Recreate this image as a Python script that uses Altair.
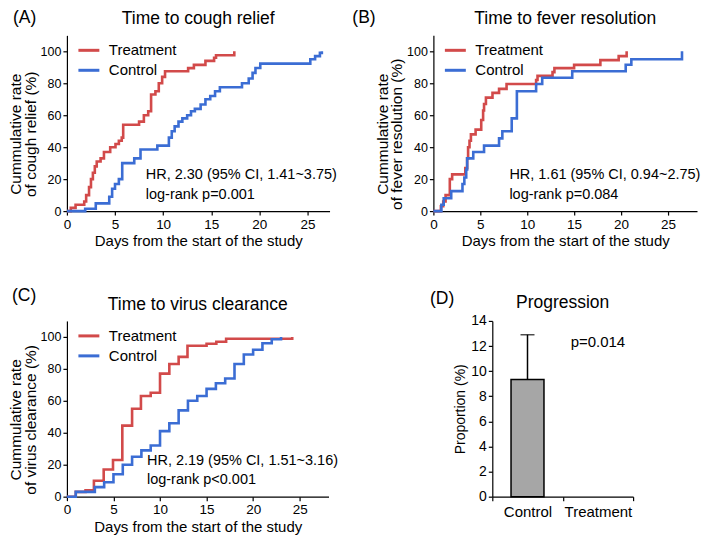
import altair as alt
import pandas as pd

FONT = "Liberation Sans"
RED = "#d24a4a"
BLUE = "#3b6dd4"
GREY = "#a6a6a6"
GROUPS = ["Treatment", "Control"]
X_TICKS = [0, 5, 10, 15, 20, 25]
Y_TICKS = [0, 20, 40, 60, 80, 100]
X_TITLE = "Days from the start of the study"
H = 176

# ---------- Panel A: time to cough relief ----------
A_TRT_DAY = [0, 0.4, 0.9, 1.8, 2.0, 2.3, 2.5, 2.7, 2.9, 3.1, 3.5, 3.85, 4.5, 5.05, 5.4, 5.7,
             5.85, 7.5, 8.0, 8.45, 8.75, 9.2, 9.55, 9.9, 10.2, 12.6, 13.2, 14.4, 15.3, 15.5, 17.4]
A_TRT_PCT = [0, 2, 4, 6, 10, 15, 20, 24, 28, 31, 33, 37, 40, 42, 44, 46,
             54, 56, 60, 62.5, 73, 75, 80, 84, 87.5, 89.5, 91.5, 94, 96, 97.5, 100]
A_CTL_DAY = [0, 1.9, 3.0, 4.4, 4.7, 5.0, 5.4, 5.75, 7.0, 7.65, 9.4, 10.6, 10.9, 11.2, 11.6, 12.0,
             12.5, 12.9, 13.3, 13.9, 14.4, 14.9, 15.4, 15.9, 18.2, 18.9, 19.3, 19.6, 20.1, 25.3,
             25.8, 26.3, 26.5]
A_CTL_PCT = [0, 1.5, 4.8, 9, 14, 17, 20, 30, 33, 38.5, 41, 46, 50, 53, 56, 58,
             60, 62.5, 64, 66.7, 70, 72, 75, 77.5, 80, 83, 86.5, 89.6, 92.3, 95,
             97, 99, 100]

# ---------- Panel B: time to fever resolution ----------
B_TRT_DAY = [0, 0.8, 1.05, 1.3, 1.75, 2.0, 3.4, 3.6, 3.7, 3.85, 4.0, 4.5, 5.1, 5.3, 5.4, 5.6,
             6.3, 7.0, 7.8, 10.95, 11.1, 12.7, 12.9, 15.0, 17.8, 19.75, 20.6]
B_TRT_PCT = [0, 3, 6, 10, 20, 23, 27, 33, 40, 44, 48, 51, 57, 63, 67, 71,
             74, 76.5, 79.5, 82, 84.6, 87, 89.5, 91.5, 94.5, 97, 100]
B_CTL_DAY = [0, 0.85, 1.1, 1.9, 3.1, 3.3, 3.5, 3.6, 4.25, 5.4, 7.0, 7.35, 8.35, 8.9, 10.95,
             11.6, 14.8, 20.5, 21.1, 26.5]
B_CTL_PCT = [0, 4, 8, 12.5, 17, 21, 26, 33, 37, 41, 45.5, 50, 58, 75, 79.5,
             83.5, 87.5, 91.6, 95, 100]

# ---------- Panel C: time to virus clearance ----------
C_TRT_DAY = [0, 0.95, 2.0, 2.9, 3.95, 4.95, 5.95, 7.0, 7.95, 9.0, 10.0, 11.0, 12.0, 12.95,
             15.0, 16.05, 17.1, 24.2]
C_TRT_PCT = [0, 3, 4, 10, 17, 23, 44.5, 55, 63, 65, 77, 83, 87.5, 94.5,
             95.7, 97, 98.8, 100]
C_CTL_DAY = [0, 0.95, 3.0, 4.0, 5.0, 6.0, 7.0, 8.0, 9.0, 10.0, 11.0, 12.0, 13.0, 14.0, 15.0,
             16.0, 17.0, 18.0, 19.0, 20.0, 21.0, 22.0, 23.0]
C_CTL_PCT = [0, 3, 6, 9, 14, 20, 25, 29, 32, 41, 46, 54, 60, 63, 67.5,
             71, 74, 83, 89, 92, 96, 98.5, 100]

# ---------- Panel D: progression ----------
D_CATS = ["Control", "Treatment"]
D_PROP = [9.33, 0.0]
D_UPPER = [12.9, 0.0]
D_TICKS = [0, 2, 4, 6, 8, 10, 12, 14]


def km_frame(td, tp, cd, cp):
    rows = [{"day": d, "pct": p, "group": "Treatment"} for d, p in zip(td, tp)]
    rows += [{"day": d, "pct": p, "group": "Control"} for d, p in zip(cd, cp)]
    return pd.DataFrame(rows)


def km_panel(df, xmax, width, ytitle, heads, notes):
    xsc = alt.Scale(domain=[0, xmax], nice=False, zero=False)
    ysc = alt.Scale(domain=[0, 110], nice=False)
    lines = alt.Chart(df).mark_line(interpolate="step-after", strokeWidth=2.6).encode(
        x=alt.X("day:Q", scale=xsc,
                axis=alt.Axis(values=X_TICKS, tickCount=12, title=X_TITLE, labelFlush=False,
                              labelOverlap=False, labelFontSize=13.5)),
        y=alt.Y("pct:Q", scale=ysc,
                axis=alt.Axis(values=Y_TICKS, tickCount=12, title=ytitle, titleY=H * 0.56,
                              titleFontSize=15.5, titleLineHeight=14.5, titlePadding=2,
                              labelFontSize=12.5, labelOverlap=False)),
        color=alt.Color("group:N", sort=GROUPS,
                        scale=alt.Scale(domain=GROUPS, range=[RED, BLUE]),
                        legend=alt.Legend(title=None, orient="none", legendX=10, legendY=3,
                                          symbolType="stroke", symbolSize=440,
                                          symbolStrokeWidth=3, labelFontSize=15,
                                          labelFont=FONT, labelOffset=8, rowPadding=-3,
                                          padding=0)),
    )
    hd = pd.DataFrame(heads, columns=["day", "pct", "txt"])
    head_layer = alt.Chart(hd).mark_text(align="center", baseline="middle", fontSize=17.5,
                                          font=FONT, color="black").encode(
        x=alt.X("day:Q", scale=xsc), y=alt.Y("pct:Q", scale=ysc), text="txt:N")
    nd = pd.DataFrame(notes, columns=["day", "pct", "txt"])
    note_layer = alt.Chart(nd).mark_text(align="left", baseline="middle", fontSize=14.5,
                                          font=FONT, color="black").encode(
        x=alt.X("day:Q", scale=xsc), y=alt.Y("pct:Q", scale=ysc), text="txt:N")
    return alt.layer(lines, note_layer, head_layer).properties(width=width, height=H)


A = km_panel(km_frame(A_TRT_DAY, A_TRT_PCT, A_CTL_DAY, A_CTL_PCT), 27.3, 263,
             ["Cummulative rate", "of cough relief (%)"],
             [(-4.4, 121, "(A)"), (13.65, 120, "Time to cough relief")],
             [(8.2, 22.5, "HR, 2.30 (95% CI, 1.41~3.75)"), (8.2, 10.3, "log-rank p=0.001")])
B = km_panel(km_frame(B_TRT_DAY, B_TRT_PCT, B_CTL_DAY, B_CTL_PCT), 28.1, 264,
             ["Cummulative rate", "of fever resolution (%)"],
             [(-7.4, 121, "(B)"), (14.05, 120, "Time to fever resolution")],
             [(8.1, 22.5, "HR, 1.61 (95% CI, 0.94~2.75)"), (8.1, 10.3, "log-rank p=0.084")])
C = km_panel(km_frame(C_TRT_DAY, C_TRT_PCT, C_CTL_DAY, C_CTL_PCT), 28.1, 262,
             ["Cummulative rate", "of virus clearance (%)"],
             [(-4.6, 125.5, "(C)"), (14.05, 120, "Time to virus clearance")],
             [(8.6, 22.5, "HR, 2.19 (95% CI, 1.51~3.16)"), (8.6, 10.3, "log-rank p<0.001")])

# Panel D
dfd = pd.DataFrame({"cat": D_CATS, "prop": D_PROP, "upper": D_UPPER})
xsd = alt.Scale(domain=D_CATS, paddingInner=0, paddingOuter=0)
ysd = alt.Scale(domain=[0, 14], nice=False)
xd = alt.X("cat:N", scale=xsd,
           axis=alt.Axis(title=None, labelAngle=0, tickBand="extent", labelFontSize=15,
                         labelPadding=4))
yd = alt.Y("prop:Q", scale=ysd,
           axis=alt.Axis(values=D_TICKS, tickCount=12, title="Proportion (%)",
                         labelFontSize=14, titleFontSize=14, labelOverlap=False))
barsd = alt.Chart(dfd).transform_filter("datum.prop > 0").mark_bar(
    size=33, fill=GREY, stroke="black", strokeWidth=1.5).encode(x=xd, y=yd)
errd = alt.Chart(dfd).transform_filter("datum.prop > 0").mark_rule(
    color="black", strokeWidth=1.5).encode(x=alt.X("cat:N", scale=xsd),
                                         y=alt.Y("prop:Q", scale=ysd),
                                         y2="upper:Q")
capd = alt.Chart(dfd).transform_filter("datum.prop > 0").mark_tick(
    color="black", size=14, thickness=1.5).encode(x=alt.X("cat:N", scale=xsd),
                                                   y=alt.Y("upper:Q", scale=ysd,
                                                           title="Proportion (%)"))
ptext = alt.Chart(pd.DataFrame({"cat": ["Treatment"], "prop": [12.3], "txt": ["p=0.014"]})).mark_text(
    align="center", baseline="middle", fontSize=15, font=FONT, color="black").encode(
    x=alt.X("cat:N", scale=xsd), y=alt.Y("prop:Q", scale=ysd), text="txt:N")
inner_d = alt.layer(barsd, errd, capd, ptext)
heads_d = pd.DataFrame({"lx": [-0.356, 0.5], "prop": [15.75, 15.4], "txt": ["(D)", "Progression"]})
head_d = alt.Chart(heads_d).mark_text(align="center", baseline="middle", fontSize=17.5, font=FONT,
                                      color="black").encode(
    x=alt.X("lx:Q", scale=alt.Scale(domain=[0, 1], nice=False), axis=None),
    y=alt.Y("prop:Q", scale=ysd), text="txt:N")
D = alt.layer(inner_d, head_d).resolve_scale(x="independent").properties(width=141, height=H)

row1 = alt.hconcat(A, B, spacing=104, bounds="flush").resolve_scale(color="independent").resolve_legend(color="independent")
row2 = alt.hconcat(C, D, spacing=164, bounds="flush").resolve_scale(color="independent").resolve_legend(color="independent")
chart = alt.vconcat(row1, row2, spacing=38).resolve_scale(
    color="independent").resolve_legend(color="independent").properties(padding=0)

chart = chart.configure_view(stroke=None).configure_axis(
    grid=False, domainColor="black", tickColor="black", labelColor="black", titleColor="black",
    domainWidth=1.2, tickWidth=1.2, tickSize=4, labelFont=FONT, titleFont=FONT,
    labelFontSize=14, titleFontSize=15, titleFontWeight="normal", labelPadding=2, titlePadding=3,
    labelOverlap=False
).configure_text(font=FONT)

chart.save("out.html", embed_options={"renderer": "svg", "actions": False})
